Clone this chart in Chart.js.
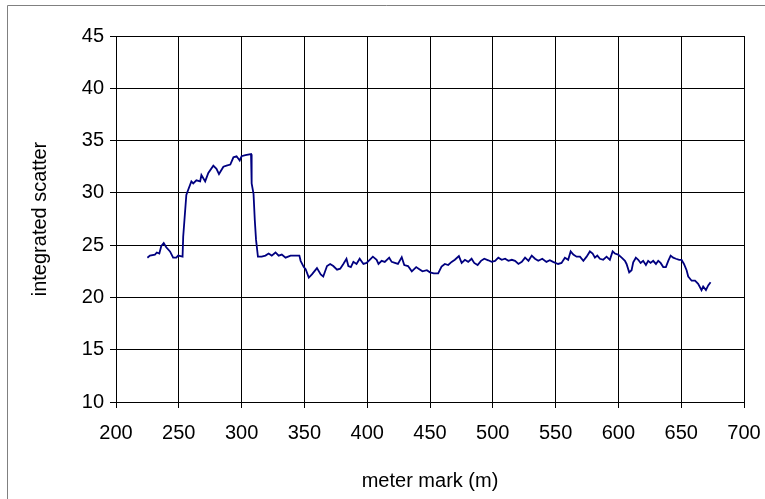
<!DOCTYPE html>
<html>
<head>
<meta charset="utf-8">
<script src="https://cdn.jsdelivr.net/npm/chart.js@4/dist/chart.umd.min.js"></script>
<style>
  html, body { margin: 0; padding: 0; background: #fff; }
  #wrap { width: 765px; height: 499px; }
</style>
</head>
<body>
<div id="wrap"><canvas id="scatterChart" width="765" height="499"></canvas></div>
<script>
// meter mark (m) along the run
const meterMark = [
  225, 227, 231, 232.5, 234.5, 236, 238, 240, 243, 245.5, 248, 249.5, 253, 253.5, 254.5, 256, 257.5, 260, 261.5, 264,
  267, 268, 271, 273.5, 277.5, 280, 282, 285.5, 288, 291, 293.5, 296, 298.5, 300, 303, 307.5, 308, 309.5, 310.5, 311.5,
  313, 316, 319, 321.5, 324, 327, 329.5, 332, 335, 339, 346, 347, 349.5, 351, 353.5, 356, 360, 363, 365, 368,
  370.5, 373, 376, 378.5, 381, 383.5, 385, 387, 389, 391.5, 394, 397, 399.5, 402, 404.5, 407.5, 409, 411.5, 414, 417.5,
  419.5, 422, 424.5, 427.5, 429.5, 432.5, 435.5, 439, 441.5, 444, 447.5, 450, 453, 456.5, 459.2, 461.8, 464.5, 467.2, 469.8, 473,
  475.2, 477.8, 480.4, 483.1, 485.2, 487.9, 490.6, 493.2, 496.4, 499.1, 501.8, 504.4, 507.1, 509.8, 512.4, 515.1, 517.7, 520.4, 523.1, 525.7,
  528.4, 531, 533.6, 536.2, 539.4, 542.7, 545.4, 548, 552, 554.7, 557.4, 560, 562, 564.1, 566.7, 569.4, 572.1, 574.7, 577.3, 579.5,
  581.3, 583.2, 585.3, 587.9, 590.6, 593.2, 595.4, 597.2, 599.8, 602.6, 605.2, 606.5, 608.6, 610.5, 611.8, 613.9, 615.8, 617.7, 619.7, 621.9,
  623.7, 625.6, 627.7, 629.9, 631.7, 633.6, 635.7, 637.8, 639.7, 641.6, 643.6, 645.8, 648.4, 650.3, 652.2, 654.3, 655.6, 658.3, 661, 663.5,
  666.2, 667.5, 669.7, 671.5, 673.4
];

// integrated scatter at each meter mark
const scatter = [
  23.8, 24.0, 24.1, 24.3, 24.2, 24.9, 25.2, 24.8, 24.4, 23.8, 23.8, 24.0, 23.9, 25.8, 27.4, 29.8, 30.3, 31.1, 30.9, 31.2,
  31.1, 31.7, 31.1, 31.9, 32.6, 32.3, 31.8, 32.5, 32.6, 32.7, 33.4, 33.5, 33.1, 33.5, 33.6, 33.7, 30.9, 29.9, 27.4, 25.5,
  23.9, 23.9, 24.0, 24.2, 24.0, 24.3, 24.0, 24.1, 23.8, 24.0, 24.0, 23.5, 22.9, 22.7, 21.9, 22.2, 22.8, 22.2, 22.0, 23.0,
  23.2, 23.0, 22.65, 22.75, 23.2, 23.7, 23.0, 22.9, 23.4, 23.2, 23.7, 23.2, 23.3, 23.6, 23.9, 23.6, 23.2, 23.5, 23.4, 23.8,
  23.4, 23.3, 23.2, 23.85, 23.1, 23.0, 22.5, 22.9, 22.7, 22.5, 22.6, 22.4, 22.3, 22.3, 22.95, 23.2, 23.1, 23.4, 23.6, 23.95,
  23.3, 23.6, 23.4, 23.7, 23.3, 23.1, 23.5, 23.7, 23.55, 23.4, 23.5, 23.8, 23.6, 23.7, 23.5, 23.6, 23.5, 23.2, 23.4, 23.8,
  23.5, 24.0, 23.7, 23.5, 23.7, 23.4, 23.55, 23.4, 23.2, 23.3, 23.8, 23.6, 24.4, 24.1, 23.9, 23.9, 23.5, 23.9, 24.4, 24.2,
  23.8, 24.0, 23.7, 23.6, 23.9, 23.6, 24.4, 24.2, 24.1, 23.8, 23.5, 23.2, 22.4, 22.6, 23.35, 23.8, 23.6, 23.3, 23.5, 23.1,
  23.5, 23.3, 23.5, 23.2, 23.5, 23.3, 22.9, 22.9, 23.5, 24.0, 23.8, 23.7, 23.6, 23.6, 23.2, 22.6, 22.0, 21.6, 21.6, 21.3,
  20.7, 21.05, 20.7, 21.15, 21.45
];

const xTicks = { min: 200, max: 700, step: 50 };
const yTicks = { min: 10, max: 45, step: 5 };

const points = meterMark.map((m, i) => ({ x: m, y: scatter[i] }));

const axisFont = { family: "'Liberation Sans', Arial, sans-serif", size: 20 };

// grey frame around the chart object (left and top edges are visible)
const outerFrame = {
  id: 'outerFrame',
  beforeDraw(chart) {
    const ctx = chart.ctx;
    ctx.save();
    ctx.strokeStyle = '#808080';
    ctx.lineWidth = 1;
    ctx.beginPath();
    ctx.moveTo(7.5, chart.height);
    ctx.lineTo(7.5, 5.5);
    ctx.lineTo(chart.width, 5.5);
    ctx.stroke();
    ctx.restore();
  }
};

new Chart(document.getElementById('scatterChart'), {
  type: 'line',
  data: {
    datasets: [{
      data: points,
      borderColor: '#000080',
      borderWidth: 1.8,
      pointRadius: 0,
      tension: 0,
      fill: false
    }]
  },
  options: {
    responsive: false,
    animation: false,
    devicePixelRatio: 1,
    layout: { padding: { top: 36, right: 21, bottom: 0, left: 0 } },
    plugins: { legend: { display: false }, tooltip: { enabled: false } },
    scales: {
      x: {
        type: 'linear',
        min: xTicks.min, max: xTicks.max,
        afterFit: s => { s.height = 97; s.paddingLeft = 0; s.paddingRight = 0; },
        ticks: { stepSize: xTicks.step, color: '#000', font: axisFont, padding: 13, maxRotation: 0 },
        grid: { color: '#000', lineWidth: 1, tickLength: 6 },
        border: { color: '#000', width: 1 },
        title: { display: true, text: 'meter mark (m)', color: '#000', font: axisFont, padding: { bottom: 6 } }
      },
      y: {
        min: yTicks.min, max: yTicks.max,
        afterFit: s => { s.width = 116; s.paddingTop = 0; s.paddingBottom = 0; },
        ticks: { stepSize: yTicks.step, color: '#000', font: axisFont, padding: 6 },
        grid: { color: '#000', lineWidth: 1, tickLength: 6 },
        border: { color: '#000', width: 1 },
        title: { display: true, text: 'integrated scatter', color: '#000', font: axisFont, padding: { top: 28 } }
      }
    }
  },
  plugins: [outerFrame]
});
</script>
</body>
</html>
